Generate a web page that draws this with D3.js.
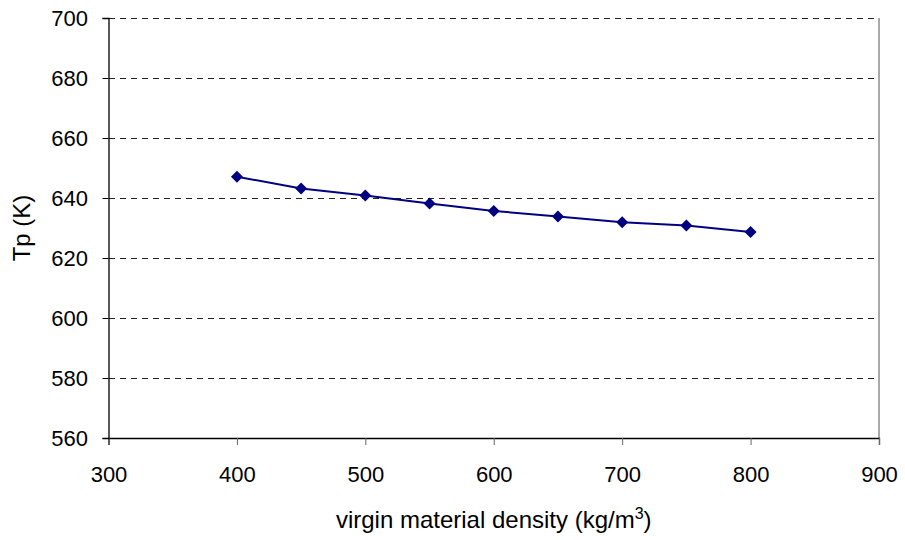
<!DOCTYPE html>
<html>
<head>
<meta charset="utf-8">
<script src="https://cdn.jsdelivr.net/npm/d3@7"></script>
<style>
  body { margin: 0; background: #fff; }
  svg { display: block; font-family: "Liberation Sans", Arial, sans-serif; }
</style>
</head>
<body>
<svg id="chart" width="905" height="540"></svg>
<script>
// Peak temperature against virgin material density
const densities = [400, 450, 500, 550, 600, 650, 700, 750, 800];
const tpValues = [647.1, 643.2, 640.8, 638.2, 635.7, 633.8, 631.9, 630.8, 628.7];
const xTicks = [300, 400, 500, 600, 700, 800, 900];
const yTicks = [560, 580, 600, 620, 640, 660, 680, 700];

const svg = d3.select("#chart");
const margin = { left: 108.5, top: 18, right: 26, bottom: 102 };
const W = 905, H = 540;

const x = d3.scaleLinear().domain([300, 900]).range([margin.left, W - margin.right]);
const y = d3.scaleLinear().domain([560, 700]).range([H - margin.bottom, margin.top]);

// dashed horizontal gridlines
svg.append("g")
  .selectAll("line")
  .data(yTicks.filter(d => d !== 560))
  .join("line")
  .attr("x1", x(300)).attr("x2", x(900))
  .attr("y1", d => y(d) + 0.5).attr("y2", d => y(d) + 0.5)
  .attr("stroke", "#222")
  .attr("stroke-width", 1)
  .attr("shape-rendering", "crispEdges")
  .attr("stroke-dasharray", "6,5");

// right border of the plot area
svg.append("line")
  .attr("x1", x(900)).attr("x2", x(900))
  .attr("y1", y(700)).attr("y2", y(560))
  .attr("stroke", "#555").attr("stroke-width", 1);

// axes
const xAxis = svg.append("g")
  .attr("transform", `translate(0,${y(560)})`)
  .call(d3.axisBottom(x).tickValues(xTicks).tickSize(7).tickPadding(21).tickFormat(d3.format("d")));
const yAxis = svg.append("g")
  .attr("transform", `translate(${x(300)},0)`)
  .call(d3.axisLeft(y).tickValues(yTicks).tickSize(6).tickPadding(14.5).tickFormat(d3.format("d")));

[xAxis, yAxis].forEach(g => {
  g.select(".domain").attr("stroke", "#000").attr("stroke-width", 1.3);
  g.selectAll(".tick line").attr("stroke", "#000");
  g.selectAll(".tick text").attr("font-size", 22).attr("fill", "#000")
    .attr("font-family", "'Liberation Sans', Arial, sans-serif");
});
xAxis.selectAll(".tick line").attr("stroke", "#666");

// series line
svg.append("path")
  .datum(densities.map((d, i) => [d, tpValues[i]]))
  .attr("fill", "none")
  .attr("stroke", "#000080")
  .attr("stroke-width", 2)
  .attr("d", d3.line().x(d => x(d[0])).y(d => y(d[1])));

// diamond markers
svg.append("g")
  .selectAll("path")
  .data(densities.map((d, i) => [d, tpValues[i]]))
  .join("path")
  .attr("transform", d => `translate(${x(d[0])},${y(d[1])})`)
  .attr("d", "M0,-6L6,0L0,6L-6,0Z")
  .attr("fill", "#000080");

// axis titles
const xt = svg.append("text")
  .attr("x", (x(300) + x(900)) / 2)
  .attr("y", 528)
  .attr("text-anchor", "middle")
  .attr("font-size", 24)
  .attr("fill", "#000");
xt.append("tspan").text("virgin material density (kg/m");
xt.append("tspan").attr("dy", -9).attr("font-size", 16).text("3");
xt.append("tspan").attr("dy", 9).text(")");

svg.append("text")
  .attr("transform", `translate(30,${(y(560) + y(700)) / 2}) rotate(-90)`)
  .attr("text-anchor", "middle")
  .attr("font-size", 24)
  .attr("fill", "#000")
  .text("Tp (K)");
</script>
</body>
</html>
